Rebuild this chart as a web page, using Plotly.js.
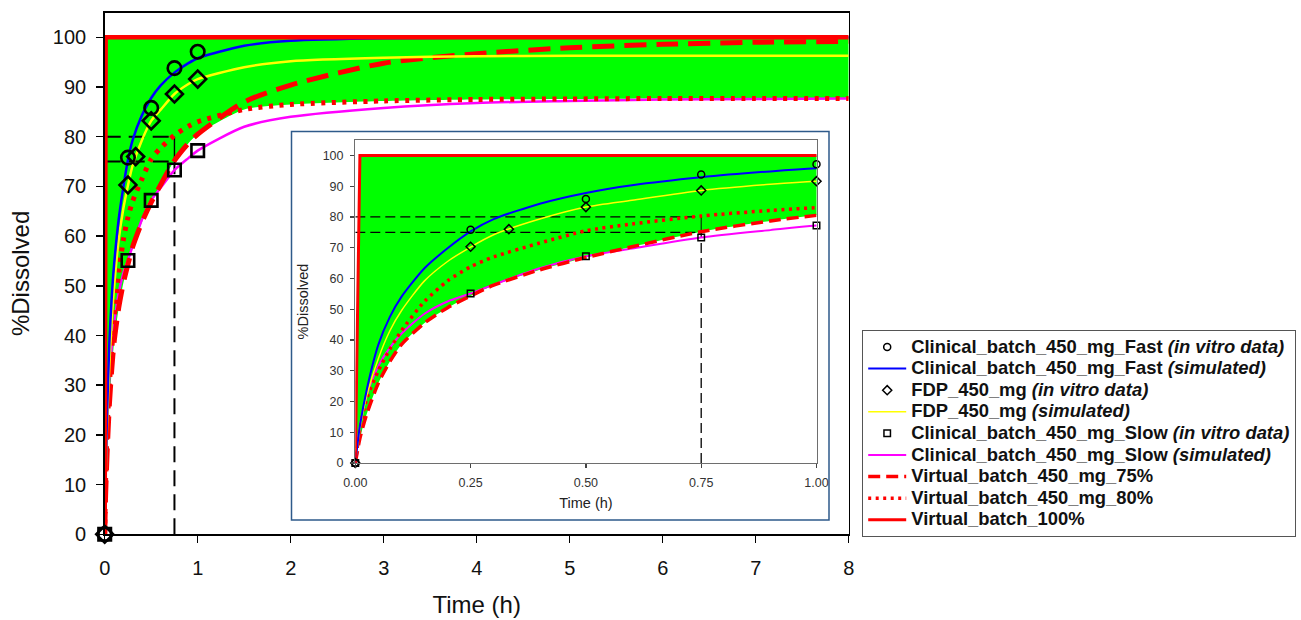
<!DOCTYPE html>
<html>
<head>
<meta charset="utf-8">
<script src="https://cdn.plot.ly/plotly-3.0.1.min.js"></script>
<style>html,body{margin:0;padding:0;background:#fff;}#chart{width:1301px;height:620px;}</style>
</head>
<body>
<div id="chart"></div>
<script>
// ---- data ----
var simTime = [0, 0.01, 0.025, 0.05, 0.075, 0.1, 0.15, 0.2, 0.25, 0.3, 0.4, 0.5, 0.6, 0.75, 0.9, 1.0, 1.5, 2, 3, 4, 5, 6, 7, 8];
var fastSim = [0, 12, 24, 38.5, 47.5, 54, 63.3, 69.8, 75.3, 79.3, 84.3, 87.8, 90.3, 92.9, 94.8, 95.8, 98.3, 99.3, 99.8, 99.9, 100, 100, 100, 100];
var fdpSim  = [0, 11, 22, 34, 43, 49.5, 59.2, 65.5, 70.2, 74.2, 79.3, 83.2, 85.4, 88.6, 90.6, 91.6, 94, 95.2, 95.9, 96.2, 96.3, 96.3, 96.3, 96.3];
var slowSim = [0, 12, 22, 31.5, 37.5, 42, 48.5, 52.5, 55.1, 58, 63.3, 67.2, 69.7, 73.3, 75.7, 77.2, 82, 84, 85.8, 86.8, 87.2, 87.5, 87.6, 87.7];
var virt75  = [0, 8, 16, 26, 33, 38.5, 45.5, 50.5, 54.3, 57.8, 62.8, 66.8, 70.3, 75.2, 78.7, 80.5, 87, 90.4, 94.8, 96.7, 97.9, 98.6, 99.0, 99.2];
var virt80  = [0, 11, 21, 30, 37, 43, 52.5, 59.2, 63.8, 67, 71.5, 75.5, 77.7, 80.3, 82.1, 83.0, 85.5, 86.5, 87.2, 87.5, 87.6, 87.7, 87.7, 87.7];
var virt100 = [0, 100, 100, 100, 100, 100, 100, 100, 100, 100, 100, 100, 100, 100, 100, 100, 100, 100, 100, 100, 100, 100, 100, 100];

var fastObsTime = [0, 0.25, 0.5, 0.75, 1.0];
var fastObs     = [0, 75.8, 85.8, 93.8, 97.1];
var fdpObsTime  = [0, 0.25, 0.333, 0.5, 0.75, 1.0];
var fdpObs      = [0, 70.3, 76.0, 83.2, 88.6, 91.6];
var slowObsTime = [0, 0.25, 0.5, 0.75, 1.0];
var slowObs     = [0, 55.1, 67.2, 73.3, 77.2];

// reference (criterion) lines: 75 % and 80 % dissolved at 45 min
var critTime = [0, 0.75];
var crit80 = [80, 80];
var crit75 = [75, 75];
var critVertTime = [0.75, 0.75];
var critVertLow = [0, 75];
var critVertHigh = [75, 80];

var names = {
  fastObs: 'Clinical_batch_450_mg_Fast <i>(in vitro data)</i>',
  fastSim: 'Clinical_batch_450_mg_Fast <i>(simulated)</i>',
  fdpObs: 'FDP_450_mg <i>(in vitro data)</i>',
  fdpSim: 'FDP_450_mg <i>(simulated)</i>',
  slowObs: 'Clinical_batch_450_mg_Slow <i>(in vitro data)</i>',
  slowSim: 'Clinical_batch_450_mg_Slow <i>(simulated)</i>',
  v75: 'Virtual_batch_450_mg_75%',
  v80: 'Virtual_batch_450_mg_80%',
  v100: 'Virtual_batch_100%'
};

// lower edge of the green band = lowest of the two virtual batches
var envelope = virt75.map(function (v, i) { return Math.min(v, virt80[i]); });

function lbl(s) { return '<span style="font-size:18.4px"><b>' + s + '</b></span>'; }

function build(xa, ya, big) {
  var w = big ? {fast: 2.5, fdp: 2.5, slow: 2.5, v75: 5, v80: 5, v100: 4.5, crit: 2}
              : {fast: 2, fdp: 1.5, slow: 2, v75: 3.5, v80: 3.5, v100: 3, crit: 1.3};
  var dash75 = big ? '22px,10px' : '12px,6px';
  var dash80 = big ? '4px,6.5px' : '3px,4.5px';
  var critDash = big ? '16px,8px' : '10px,5px';
  var ms = big ? {c: 13.5, d: 13, s: 12.5, lw: 2.6} : {c: 7, d: 7, s: 6.5, lw: 1.5};
  var leg = !big;
  var base = {xaxis: xa, yaxis: ya, hoverinfo: 'skip'};
  var sp = {shape: 'spline', smoothing: 0.7};
  function t(o) { return Object.assign({}, base, o); }
  function ln(o) { return Object.assign({}, sp, o); }
  return [
    t({x: simTime, y: envelope, mode: 'lines', line: ln({width: 0, color: 'rgba(0,0,0,0)'}), showlegend: false}),
    t({x: simTime, y: virt100, mode: 'lines', fill: 'tonexty', fillcolor: '#00ff00', line: {width: 0, color: 'rgba(0,0,0,0)'}, showlegend: false}),
    t({x: critTime, y: crit80, mode: 'lines', line: {color: '#000', width: w.crit, dash: critDash}, showlegend: false}),
    t({x: critTime, y: crit75, mode: 'lines', line: {color: '#000', width: w.crit, dash: critDash}, showlegend: false}),
    t({x: critVertTime, y: critVertLow, mode: 'lines', line: {color: '#000', width: w.crit, dash: critDash}, showlegend: false}),
    t({x: critVertTime, y: critVertHigh, mode: 'lines', line: {color: '#000', width: w.crit * 0.7}, showlegend: false}),
    t({x: simTime, y: slowSim, mode: 'lines', name: lbl(names.slowSim), legendrank: 6, showlegend: leg, line: ln({color: '#ff00ff', width: w.slow})}),
    t({x: simTime, y: virt80, mode: 'lines', name: lbl(names.v80), legendrank: 8, showlegend: leg, line: ln({color: '#ff0000', width: w.v80, dash: dash80})}),
    t({x: simTime, y: virt75, mode: 'lines', name: lbl(names.v75), legendrank: 7, showlegend: leg, line: ln({color: '#ff0000', width: w.v75, dash: dash75})}),
    t({x: simTime, y: fdpSim, mode: 'lines', name: lbl(names.fdpSim), legendrank: 4, showlegend: leg, line: ln({color: '#ffff00', width: w.fdp})}),
    t({x: simTime, y: fastSim, mode: 'lines', name: lbl(names.fastSim), legendrank: 2, showlegend: leg, line: ln({color: '#0000ff', width: w.fast})}),
    t({x: simTime, y: virt100, mode: 'lines', name: lbl(names.v100), legendrank: 9, showlegend: leg, line: {color: '#ff0000', width: w.v100}}),
    t({x: slowObsTime, y: slowObs, mode: 'markers', name: lbl(names.slowObs), legendrank: 5, showlegend: leg, cliponaxis: false,
       marker: {symbol: 'square-open', size: ms.s, color: '#000', line: {width: ms.lw, color: '#000'}}}),
    t({x: fdpObsTime, y: fdpObs, mode: 'markers', name: lbl(names.fdpObs), legendrank: 3, showlegend: leg, cliponaxis: false,
       marker: {symbol: 'diamond-open', size: ms.d, color: '#000', line: {width: ms.lw, color: '#000'}}}),
    t({x: fastObsTime, y: fastObs, mode: 'markers', name: lbl(names.fastObs), legendrank: 1, showlegend: leg, cliponaxis: false,
       marker: {symbol: 'circle-open', size: ms.c, color: '#000', line: {width: ms.lw, color: '#000'}}})
  ];
}

var data = build('x', 'y', true).concat(build('x2', 'y2', false));

var W = 1301, H = 620;
function px(x) { return x / W; }
function py(y) { return 1 - y / H; }

var font = 'Liberation Sans, Arial, sans-serif';
var layout = {
  width: W, height: H,
  margin: {l: 0, r: 0, t: 0, b: 0},
  paper_bgcolor: '#ffffff',
  plot_bgcolor: 'rgba(0,0,0,0)',
  font: {family: font, color: '#111'},
  hovermode: false,
  xaxis: {
    domain: [px(104.7), px(848.7)], range: [0, 8], dtick: 1, tick0: 0,
    showline: true, linecolor: '#000', linewidth: 1.5, mirror: true,
    ticks: 'outside', ticklen: 7, tickwidth: 1.5, tickcolor: '#000',
    showgrid: false, zeroline: false, ticklabelstandoff: 8,
    tickfont: {size: 20, family: font, color: '#111'},
    title: {text: 'Time (h)', font: {size: 24, family: font, color: '#111'}, standoff: 18},
    anchor: 'y', automargin: false
  },
  yaxis: {
    domain: [py(534.3), py(12.5)], range: [0, 105], tickvals: [0, 10, 20, 30, 40, 50, 60, 70, 80, 90, 100],
    showline: true, linecolor: '#000', linewidth: 1.5, mirror: true,
    ticks: 'outside', ticklen: 7, tickwidth: 1.5, tickcolor: '#000',
    showgrid: false, zeroline: false, ticklabelstandoff: 6,
    tickfont: {size: 20, family: font, color: '#111'},
    title: {text: '%Dissolved', font: {size: 24, family: font, color: '#111'}, standoff: 16},
    anchor: 'x', automargin: false
  },
  xaxis2: {
    domain: [px(355.3), px(816.5)], range: [0, 1], tickvals: [0, 0.25, 0.5, 0.75, 1], tickformat: '.2f',
    showline: true, linecolor: '#6e6e6e', linewidth: 1.3, mirror: true,
    ticks: 'outside', ticklen: 4, tickwidth: 1.2, tickcolor: '#444',
    showgrid: false, zeroline: false, ticklabelstandoff: 4,
    tickfont: {size: 12.5, family: font, color: '#333'},
    title: {text: 'Time (h)', font: {size: 14.5, family: font, color: '#222'}, standoff: 8},
    anchor: 'y2', automargin: false
  },
  yaxis2: {
    domain: [py(463), py(140)], range: [0, 105], tickvals: [0, 10, 20, 30, 40, 50, 60, 70, 80, 90, 100],
    showline: true, linecolor: '#6e6e6e', linewidth: 1.3, mirror: true,
    ticks: 'outside', ticklen: 4, tickwidth: 1.2, tickcolor: '#444',
    showgrid: false, zeroline: false, ticklabelstandoff: 4,
    tickfont: {size: 12.5, family: font, color: '#333'},
    title: {text: '%Dissolved', font: {size: 14.5, family: font, color: '#222'}, standoff: 10},
    anchor: 'x2', automargin: false
  },
  shapes: [{
    type: 'rect', xref: 'paper', yref: 'paper', layer: 'below',
    x0: px(291.5), x1: px(829), y0: py(520), y1: py(131.5),
    line: {color: '#2e5a8a', width: 1.5}, fillcolor: '#ffffff'
  }],
  legend: {
    x: px(862), y: py(330), xanchor: 'left', yanchor: 'top',
    bgcolor: '#ffffff', bordercolor: '#555', borderwidth: 1.2,
    font: {family: font, size: 14.3, color: '#111'},
    traceorder: 'normal', tracegroupgap: 0, itemwidth: 38
  },
  showlegend: true
};

Plotly.newPlot('chart', data, layout, {staticPlot: true, displayModeBar: false});
</script>
</body>
</html>
